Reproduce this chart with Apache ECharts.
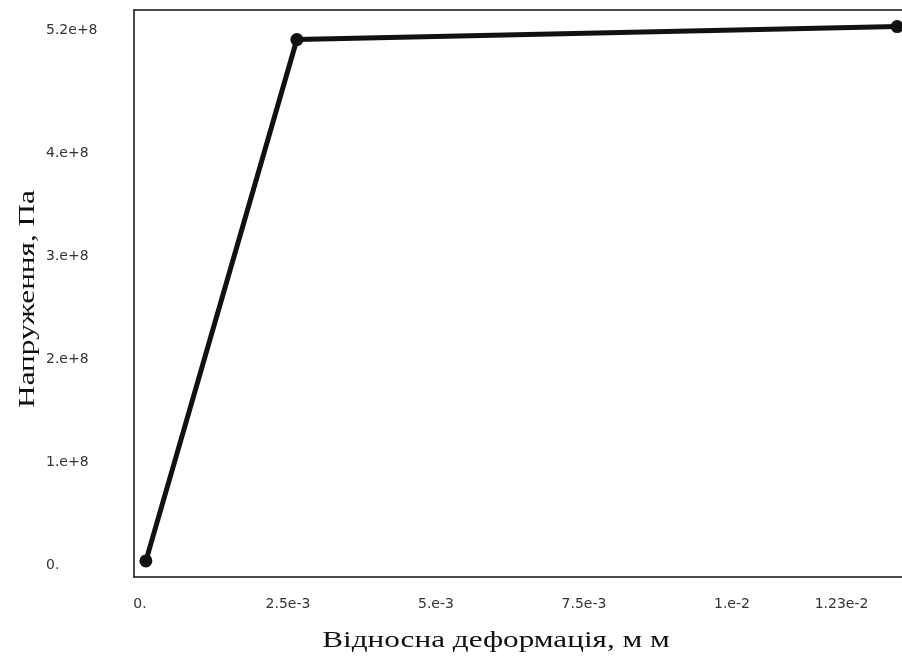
<!DOCTYPE html>
<html>
<head>
<meta charset="utf-8">
<script src="https://cdn.jsdelivr.net/npm/echarts@6/dist/echarts.min.js"></script>
<style>
html,body{margin:0;padding:0;background:#fff;}
#chart{width:902px;height:660px;}
</style>
</head>
<body>
<div id="chart"></div>
<script>
// Data
const strainValues = [0.0001, 0.00265, 0.01279];
const stressValues = [4e6, 5.107e8, 5.233e8];

// Tick labels (positions as they appear on the picture)
const xTickValues = [0, 0.0025, 0.005, 0.0075, 0.01, 0.01185];
const xTickLabels = ['0.', '2.5e-3', '5.e-3', '7.5e-3', '1.e-2', '1.23e-2'];
const yTickValues = [0, 1e8, 2e8, 3e8, 4e8, 5.2e8];
const yTickLabels = ['0.', '1.e+8', '2.e+8', '3.e+8', '4.e+8', '5.2e+8'];

const xTitle = 'Відносна деформація, м м';
const yTitle = 'Напруження, Па';

const points = strainValues.map((x, i) => [x, stressValues[i]]);

function labelFor(values, labels) {
  return function (v) {
    for (let i = 0; i < values.length; i++) {
      if (Math.abs(values[i] - v) <= Math.abs(values[i]) * 1e-6 + 1e-12) return labels[i];
    }
    return '';
  };
}

const X_MIN = -0.000101, X_MAX = 0.012872;
const frameLine = {show: true, onZero: false, lineStyle: {color: '#111', width: 1.5}};

const chart = echarts.init(document.getElementById('chart'), null, {renderer: 'canvas'});
chart.setOption({
  animation: false,
  backgroundColor: '#fff',
  grid: {left: 134, top: 10, right: 0, bottom: 83, show: false},
  xAxis: [{
    type: 'value',
    position: 'bottom',
    min: X_MIN, max: X_MAX,
    axisLine: frameLine,
    axisTick: {show: false},
    splitLine: {show: false},
    axisLabel: {
      customValues: xTickValues,
      formatter: labelFor(xTickValues, xTickLabels),
      margin: 20,
      color: '#333',
      fontFamily: 'DejaVu Sans',
      fontSize: 14
    }
  }, {
    type: 'value',
    position: 'top',
    min: X_MIN, max: X_MAX,
    axisLine: frameLine,
    axisTick: {show: false},
    splitLine: {show: false},
    axisLabel: {show: false}
  }],
  yAxis: {
    type: 'value',
    position: 'left',
    min: -1.165e7,
    max: 5.394e8,
    axisLine: frameLine,
    axisTick: {show: false},
    splitLine: {show: false},
    axisLabel: {
      customValues: yTickValues,
      formatter: labelFor(yTickValues, yTickLabels),
      align: 'left',
      margin: 88,
      color: '#333',
      fontFamily: 'DejaVu Sans',
      fontSize: 14
    }
  },
  graphic: [
    {
      type: 'text', x: 496, y: 641, scaleX: 1.3,
      style: {text: xTitle, fill: '#111', font: '24px "Liberation Serif"', textAlign: 'center', textVerticalAlign: 'middle'}
    },
    {
      type: 'text', x: 28, y: 299, rotation: Math.PI / 2, scaleX: 1.3,
      style: {text: yTitle, fill: '#111', font: '24px "Liberation Serif"', textAlign: 'center', textVerticalAlign: 'middle'}
    }
  ],
  series: [{
    type: 'line',
    xAxisIndex: 0,
    data: points,
    clip: false,
    symbol: 'circle',
    symbolSize: 13,
    lineStyle: {color: '#111', width: 5},
    itemStyle: {color: '#111'}
  }]
});
</script>
</body>
</html>
